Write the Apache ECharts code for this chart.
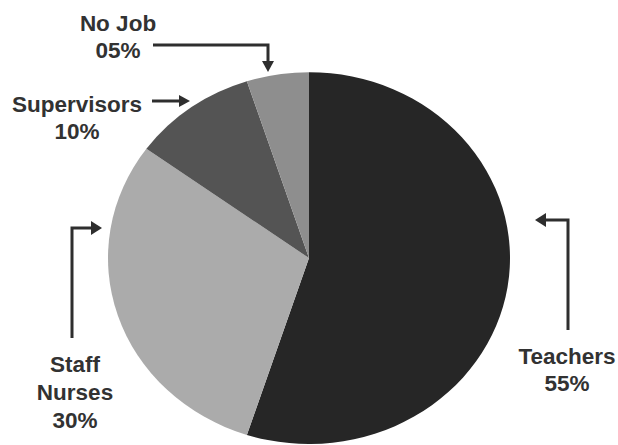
<!DOCTYPE html>
<html>
<head>
<meta charset="utf-8">
<script src="https://cdn.jsdelivr.net/npm/echarts@6/dist/echarts.min.js"></script>
<style>
  html, body { margin: 0; padding: 0; background: #ffffff; overflow: hidden; }
  #wrap { position: relative; width: 618px; height: 445px; overflow: hidden; }
  #pie { position: absolute; left: 0; top: 0; width: 618px; height: 490px; transform: scaleY(0.925); transform-origin: 0 0; }
  #labels { position: absolute; left: 0; top: 0; width: 618px; height: 445px; }
</style>
</head>
<body>
<div id="wrap">
  <div id="pie"></div>
  <div id="labels"></div>
</div>
<script>
// ---- Data ----
const categories = ['Teachers', 'Staff Nurses', 'Supervisors', 'No Job'];
const values = [55, 30, 10, 5];
const percentLabels = ['55%', '30%', '10%', '05%'];
const nameLines = [['Teachers'], ['Staff', 'Nurses'], ['Supervisors'], ['No Job']];

// ---- Styles ----
const sliceColors = ['#262626', '#ababab', '#545454', '#8e8e8e'];
const textColor = '#323232';
const font = 'bold 22.5px "Liberation Sans", Arial, sans-serif';

const pieChart = echarts.init(document.getElementById('pie'), null, { renderer: 'svg' });
pieChart.setOption({
  animation: false,
  backgroundColor: 'transparent',
  series: [{
    type: 'pie',
    center: [309, 279],
    radius: [0, 201],
    startAngle: 90,
    clockwise: true,
    silent: true,
    label: { show: false },
    labelLine: { show: false },
    itemStyle: { borderWidth: 0 },
    data: categories.map((c, i) => ({ name: c, value: values[i], itemStyle: { color: sliceColors[i] } }))
  }]
});

// label layout: [x center, first line y, line spacing]
const labelPos = [
  [567, 356, 27],  // Teachers
  [75, 364, 28],   // Staff Nurses
  [77, 104, 27],   // Supervisors
  [118, 23, 27]    // No Job
];

const graphics = [];
categories.forEach((c, i) => {
  const lines = nameLines[i].concat([percentLabels[i]]);
  const [x, y0, dy] = labelPos[i];
  lines.forEach((t, k) => {
    graphics.push({
      type: 'text',
      x: x, y: y0 + k * dy,
      style: { text: t, font: font, fill: textColor, textAlign: 'center', textVerticalAlign: 'middle' },
      silent: true
    });
  });
});

const arrowColor = '#2e2e2e';
function arrow(points, head) {
  graphics.push({ type: 'polyline', shape: { points: points }, style: { stroke: arrowColor, lineWidth: 3, fill: null }, silent: true });
  graphics.push({ type: 'polygon', shape: { points: head }, style: { fill: arrowColor }, silent: true });
}
// No Job
arrow([[153, 45], [268, 45], [268, 62]], [[262, 61], [274, 61], [268, 72]]);
// Supervisors
arrow([[152, 101], [180, 101]], [[179, 95], [179, 107], [190, 101]]);
// Staff Nurses
arrow([[72, 338], [72, 228], [92, 228]], [[91, 221], [91, 235], [102, 228]]);
// Teachers
arrow([[568, 330], [568, 220], [545, 220]], [[546, 213], [546, 227], [535, 220]]);

const labelChart = echarts.init(document.getElementById('labels'), null, { renderer: 'svg' });
labelChart.setOption({
  animation: false,
  backgroundColor: 'transparent',
  graphic: graphics
});
</script>
</body>
</html>
